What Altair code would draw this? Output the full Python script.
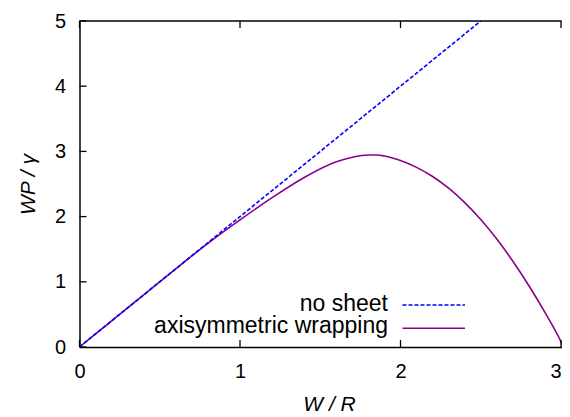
import altair as alt
import pandas as pd

# --- data ---
wrap_x = [0.0, 0.2, 0.4, 0.6, 0.8, 1.0, 1.2, 1.4, 1.6, 1.7, 1.8, 1.85, 1.9, 2.0, 2.1, 2.2, 2.3, 2.4, 2.5, 2.6, 2.7, 2.8, 2.9, 3.0, 3.015]
wrap_y = [0.0, 0.40, 0.80, 1.20, 1.59, 1.95, 2.29, 2.60, 2.84, 2.91, 2.944, 2.945, 2.93, 2.86, 2.755, 2.615, 2.435, 2.215, 1.955, 1.655, 1.315, 0.94, 0.53, 0.08, 0.0]
sheet_x = [0.0, 2.5]
sheet_y = [0.0, 5.0]
x_ticks = [0, 1, 2, 3]
y_ticks = [0, 1, 2, 3, 4, 5]
legend_labels = ["no sheet", "axisymmetric wrapping"]

W, H = 482, 326
FONT = "Liberation Sans"
PURPLE = "#8b008b"
BLUE = "#0000ff"

xs = alt.Scale(domain=[0, 3.003], nice=False, zero=False)
ys = alt.Scale(domain=[0, 5], nice=False, zero=False)

wrap_df = pd.DataFrame({"x": wrap_x, "y": wrap_y})
sheet_df = pd.DataFrame({"x": sheet_x, "y": sheet_y})
xt_df = pd.DataFrame({"t": x_ticks})
yt_df = pd.DataFrame({"t": y_ticks})
one = pd.DataFrame({"k": [0]})

x_axis = alt.Axis(
    values=x_ticks, format="d", title="W / R", grid=False,
    ticks=False, tickSize=0, domain=True, domainColor="black", domainWidth=1.5,
    labelFont=FONT, labelFontSize=20, labelColor="black", labelPadding=14,
    labelFlush=False,
    labelAlign=alt.ExprRef(expr="datum.value >= 3 ? 'right' : 'center'"),
    titleFont=FONT, titleFontSize=21, titleFontStyle="italic", titleFontWeight="normal",
    titleColor="black", titleX=249.5, titleY=63, titleBaseline="alphabetic", titleAlign="center",
)
y_axis = alt.Axis(
    values=y_ticks, format="d", title="WP / γ", grid=False,
    ticks=False, tickSize=0, domain=True, domainColor="black", domainWidth=1.5,
    labelFont=FONT, labelFontSize=20, labelColor="black", labelPadding=14,
    labelFlush=False,
    titleFont=FONT, titleFontSize=21, titleFontStyle="italic", titleFontWeight="normal",
    titleColor="black", titleX=-51.5, titleY=163, titleBaseline="middle", titleAlign="center",
    titleAngle=270,
)

wrap = alt.Chart(wrap_df).mark_line(color=PURPLE, strokeWidth=1.6, interpolate="monotone").encode(
    x=alt.X("x:Q", scale=xs, axis=x_axis),
    y=alt.Y("y:Q", scale=ys, axis=y_axis),
)
sheet = alt.Chart(sheet_df).mark_line(color=BLUE, strokeWidth=1.6, strokeDash=[4, 2]).encode(
    x=alt.X("x:Q", scale=xs, axis=None),
    y=alt.Y("y:Q", scale=ys, axis=None),
)

bottom_ticks = alt.Chart(xt_df).mark_rule(color="black", strokeWidth=1.3).encode(
    x=alt.X("t:Q", scale=xs, axis=None), y=alt.value(H), y2=alt.value(H - 7)
)
top_ticks = alt.Chart(xt_df).mark_rule(color="black", strokeWidth=1.3).encode(
    x=alt.X("t:Q", scale=xs, axis=None), y=alt.value(0), y2=alt.value(7)
)
left_ticks = alt.Chart(yt_df).mark_rule(color="black", strokeWidth=1.3).encode(
    y=alt.Y("t:Q", scale=ys, axis=None), x=alt.value(0), x2=alt.value(7)
)
top_border = alt.Chart(one).mark_rule(color="black", strokeWidth=1.5).encode(
    x=alt.value(0), x2=alt.value(W), y=alt.value(0)
)

LEG_FS = 23
leg_text1 = alt.Chart(one).mark_text(align="right", baseline="alphabetic", font=FONT, fontSize=LEG_FS, color="black").encode(
    x=alt.value(308.5), y=alt.value(290), text=alt.value(legend_labels[0])
)
leg_text2 = alt.Chart(one).mark_text(align="right", baseline="alphabetic", font=FONT, fontSize=LEG_FS, color="black").encode(
    x=alt.value(308.5), y=alt.value(311.7), text=alt.value(legend_labels[1])
)
leg_line1 = alt.Chart(one).mark_rule(color=BLUE, strokeWidth=1.6, strokeDash=[4, 2]).encode(
    x=alt.value(323), x2=alt.value(385.5), y=alt.value(284)
)
leg_line2 = alt.Chart(one).mark_rule(color=PURPLE, strokeWidth=1.6).encode(
    x=alt.value(323), x2=alt.value(385.5), y=alt.value(307.3)
)

chart = alt.layer(
    wrap, sheet, bottom_ticks, top_ticks, left_ticks, top_border,
    leg_text1, leg_text2, leg_line1, leg_line2,
).resolve_axis(x="independent", y="independent").properties(
    width=W, height=H,
    padding={"left": 71.5, "top": 13, "right": 0, "bottom": 70},
    autosize="none",
).configure_view(stroke=None)

chart.save("out.html", embed_options={"renderer": "svg", "actions": False})
